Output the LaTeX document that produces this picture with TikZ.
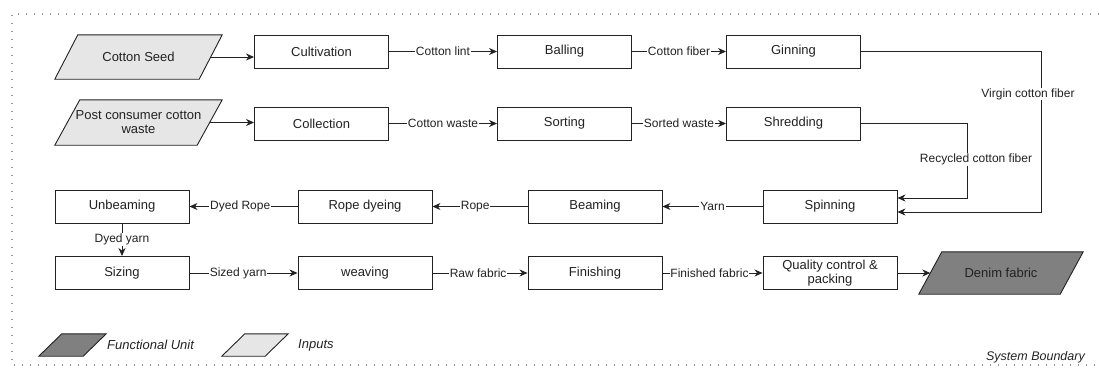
\documentclass[tikz,border=0pt]{standalone}
\usepackage{fontspec}
\setmainfont{Liberation Sans}
\usetikzlibrary{arrows.meta,calc,backgrounds}
\definecolor{inputgray}{HTML}{E6E6E6}
\definecolor{fugray}{HTML}{808080}
\definecolor{linecol}{HTML}{222222}
\definecolor{bordergray}{HTML}{999999}
\newcommand{\paraoutline}[3]{% node name, slant (pt), fill colour
  \begin{pgfonlayer}{background}
    \draw[draw=linecol, line width=0.9pt, fill=#3]
      ([xshift=-#2/2]#1.south west) -- ([xshift=#2/2]#1.north west) --
      ([xshift=#2/2]#1.north east) -- ([xshift=-#2/2]#1.south east) -- cycle;
  \end{pgfonlayer}}
\begin{document}
\begin{tikzpicture}[x=1pt,y=-1pt,
  procbox/.style={draw=linecol, line width=0.9pt, fill=white, minimum width=134pt, minimum height=33pt, inner sep=1pt, font=\fontsize{13}{15}\selectfont, text=linecol, align=center},
  parabody/.style={draw=none, inner sep=1pt, font=\fontsize{13}{15}\selectfont, text=linecol, align=center},
  arr/.style={draw=linecol, line width=0.9pt, -{Stealth[length=8pt,width=7pt,inset=2.5pt]}},
  lbl/.style={fill=white, inner sep=0.8pt, font=\fontsize{12}{14}\selectfont, text=linecol},
  legtxt/.style={font=\itshape\fontsize{13}{15}\selectfont, text=linecol, anchor=west, inner sep=0pt},
  boundary/.style={draw=bordergray, line width=1.1pt, dash pattern=on 1pt off 7pt}
]
\useasboundingbox (0,0) rectangle (1099,367);
% system boundary
\draw[boundary] (1099,14) -- (12,14) -- (12,365) -- (1099,365);
\node[font=\itshape\fontsize{12.5}{14}\selectfont, text=linecol, anchor=east, inner sep=0pt] (sb) at (1085,357) {System Boundary};

% row 1
\node[parabody, minimum width=144pt, minimum height=44pt] (cs) at (138.5,57) {Cotton Seed};
\paraoutline{cs}{23pt}{inputgray}
\node[procbox] (cult) at (321.5,51.5) {Cultivation};
\node[procbox] (ball) at (564.5,51.5) {Balling};
\node[procbox] (gin) at (793.5,51.5) {Ginning};
% row 2
\node[parabody, minimum width=142pt, minimum height=45pt] (pc) at (138.5,122.5) {Post consumer cotton\\[-1pt]waste};
\paraoutline{pc}{25pt}{inputgray}
\node[procbox] (coll) at (321.5,123.5) {Collection};
\node[procbox] (sort) at (564.5,123.5) {Sorting};
\node[procbox] (shr) at (793.5,123.5) {Shredding};
% row 3
\node[procbox] (unb) at (122,206.5) {Unbeaming};
\node[procbox] (rope) at (365,206.5) {Rope dyeing};
\node[procbox] (beam) at (595,206.5) {Beaming};
\node[procbox] (spin) at (830,206.5) {Spinning};
% row 4
\node[procbox] (siz) at (122,273) {Sizing};
\node[procbox] (weav) at (365,273) {weaving};
\node[procbox] (fin) at (595,273) {Finishing};
\node[procbox, font=\fontsize{13}{13.5}\selectfont] (qc) at (830,273) {Quality control \&\\packing};
\node[parabody, minimum width=141pt, minimum height=42pt] (den) at (1001,273) {Denim fabric};
\paraoutline{den}{23pt}{fugray}

% legend
\node[parabody, minimum width=44pt, minimum height=22pt] (lfu) at (72.5,345) {};
\paraoutline{lfu}{23pt}{fugray}
\node[legtxt] (lfut) at (107,345) {Functional Unit};
\node[parabody, minimum width=43pt, minimum height=22pt] (lin) at (255,345) {};
\paraoutline{lin}{23pt}{inputgray}
\node[legtxt] (lint) at (298,345) {Inputs};

% connectors row 1
\draw[arr] (cs.east) -- (cs.east -| cult.west);
\draw[arr] (cult.east) -- node[lbl]{Cotton lint} (ball.west);
\draw[arr] (ball.east) -- node[lbl]{Cotton fiber} (gin.west);
% row 2
\draw[arr] (pc.east) -- (pc.east -| coll.west);
\draw[arr] (coll.east) -- node[lbl]{Cotton waste} (sort.west);
\draw[arr] (sort.east) -- node[lbl]{Sorted waste} (shr.west);
% to spinning
\coordinate (vt) at (1041,51.5);
\coordinate (vb) at (1041,212);
\coordinate (rt) at (967,123.5);
\coordinate (rb) at (967,198);
\draw[arr] (gin.east) -- (vt) -- node[lbl, pos=0.265, xshift=-13pt]{Virgin cotton fiber} (vb) -- (vb -| spin.east);
\draw[arr] (shr.east) -- (rt) -- node[lbl, pos=0.48, xshift=9pt]{Recycled cotton fiber} (rb) -- (rb -| spin.east);
% row 3
\draw[arr] (spin.west) -- node[lbl]{Yarn} (beam.east);
\draw[arr] (beam.west) -- node[lbl, pos=0.55]{Rope} (rope.east);
\draw[arr] (rope.west) -- node[lbl, pos=0.53]{Dyed Rope} (unb.east);
\draw[arr] (unb.south) -- node[lbl]{Dyed yarn} (siz.north);
% row 4
\draw[arr] (siz.east) -- node[lbl, pos=0.45]{Sized yarn} (weav.west);
\draw[arr] (weav.east) -- node[lbl, pos=0.48]{Raw fabric} (fin.west);
\draw[arr] (fin.east) -- node[lbl, pos=0.47]{Finished fabric} (qc.west);
\draw[arr] (qc.east) -- (den.west);
\end{tikzpicture}
\end{document}
